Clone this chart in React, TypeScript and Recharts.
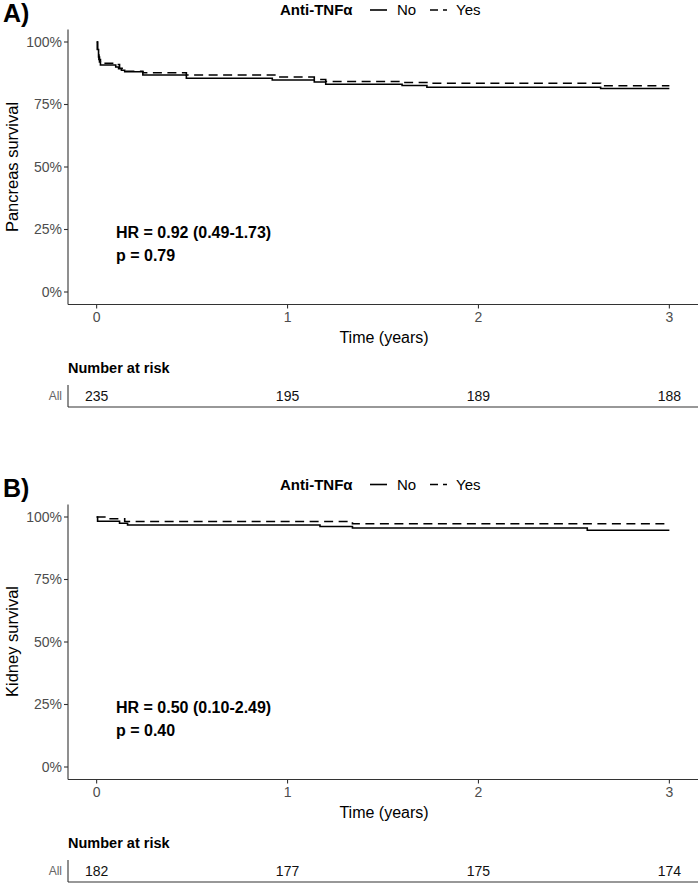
import React from 'react';
import { LineChart, Line, XAxis, YAxis, LabelList } from 'recharts';

// ---- Data ----
const xTicks = [0, 1, 2, 3];
const yTicks = [0, 0.25, 0.5, 0.75, 1];

// Panel A – Pancreas survival
const pancNoT = [0, 0.004, 0.01, 0.015, 0.02, 0.1, 0.115, 0.13, 0.147, 0.242, 0.47, 0.92, 1.14, 1.2, 1.6, 1.73, 2.64, 3];
const pancNoS = [1, 0.97, 0.94, 0.92, 0.908, 0.9, 0.893, 0.887, 0.881, 0.868, 0.855, 0.848, 0.84, 0.831, 0.826, 0.819, 0.814, 0.814];
const pancYesT = [0, 0.005, 0.012, 0.02, 0.1, 0.12, 0.147, 0.242, 0.47, 0.96, 1.14, 1.2, 1.6, 1.73, 2.64, 3];
const pancYesS = [1, 0.96, 0.93, 0.915, 0.91, 0.895, 0.883, 0.877, 0.868, 0.86, 0.85, 0.842, 0.838, 0.835, 0.825, 0.825];

// Panel B – Kidney survival
const kidNoT = [0, 0.005, 0.12, 0.162, 1.17, 1.34, 2.57, 3];
const kidNoS = [1, 0.983, 0.975, 0.968, 0.962, 0.956, 0.947, 0.947];
const kidYesT = [0, 0.05, 0.147, 1.34, 3];
const kidYesS = [1, 0.993, 0.982, 0.973, 0.973];

// Number at risk
const riskTimes = [0, 1, 2, 3];
const riskA = [235, 195, 189, 188];
const riskB = [182, 177, 175, 174];

const FONT = '"Liberation Sans", Arial, Helvetica, sans-serif';

const toSeries = (t: number[], s: number[]) => t.map((v, i) => ({ t: v, s: s[i] }));
const toRisk = (t: number[], n: number[]) => t.map((v, i) => ({ t: v, n: n[i], y: 0.5 }));

const axisStroke = { stroke: '#333333', strokeWidth: 1.1 };

function SurvivalChart({ top, noData, yesData }: { top: number; noData: any[]; yesData: any[] }) {
  return (
    <div style={{ position: 'absolute', left: 0, top }}>
      <LineChart width={700} height={345} margin={{ top: 29.5, right: 2, bottom: 0.5, left: 8 }}>
        <XAxis
          dataKey="t"
          type="number"
          domain={[-0.15, 3.15]}
          ticks={xTicks}
          allowDataOverflow
          height={40}
          tickSize={4}
          tickMargin={4}
          axisLine={axisStroke}
          tickLine={axisStroke}
          tick={{ fill: '#4d4d4d', fontSize: 14, fontFamily: FONT }}
        />
        <YAxis
          type="number"
          domain={[-0.05, 1.05]}
          ticks={yTicks}
          allowDataOverflow
          width={60}
          tickSize={4}
          tickMargin={2}
          tickFormatter={(v: number) => `${Math.round(v * 100)}%`}
          axisLine={axisStroke}
          tickLine={axisStroke}
          tick={{ fill: '#4d4d4d', fontSize: 14, fontFamily: FONT }}
        />
        <Line
          data={noData}
          dataKey="s"
          type="stepAfter"
          stroke="#000000"
          strokeWidth={1.6}
          dot={false}
          activeDot={false}
          isAnimationActive={false}
        />
        <Line
          data={yesData}
          dataKey="s"
          type="stepAfter"
          stroke="#000000"
          strokeWidth={1.6}
          strokeDasharray="9 5.5"
          dot={false}
          activeDot={false}
          isAnimationActive={false}
        />
      </LineChart>
    </div>
  );
}

function RiskTable({ top, data }: { top: number; data: any[] }) {
  return (
    <div style={{ position: 'absolute', left: 0, top }}>
      <LineChart width={700} height={28} margin={{ top: 5, right: 2, bottom: 0, left: 8 }}>
        <XAxis
          dataKey="t"
          type="number"
          domain={[-0.15, 3.15]}
          ticks={xTicks}
          allowDataOverflow
          height={1}
          tick={false}
          tickLine={false}
          axisLine={axisStroke}
        />
        <YAxis
          type="number"
          domain={[0, 1]}
          ticks={[0.5]}
          width={60}
          tickSize={0}
          tickMargin={6}
          tickLine={false}
          tickFormatter={() => 'All'}
          axisLine={axisStroke}
          tick={{ fill: '#666666', fontSize: 12, fontFamily: FONT }}
        />
        <Line
          data={data}
          dataKey="y"
          stroke="none"
          dot={false}
          activeDot={false}
          isAnimationActive={false}
        >
          <LabelList
            dataKey="n"
            content={(p: any) => (
              <text
                x={p.x}
                y={p.y}
                dy="0.35em"
                textAnchor="middle"
                fontSize={14}
                fontFamily={FONT}
                fill="#111111"
              >
                {p.value}
              </text>
            )}
          />
        </Line>
      </LineChart>
    </div>
  );
}

function Overlay({ o, tag, yTitle, hr, p }: { o: number; tag: string; yTitle: string; hr: string; p: string }) {
  return (
    <g fontFamily={FONT}>
      <text x={3} y={o + 22} fontSize={25} fontWeight="bold" fill="#000">{tag}</text>
      {/* legend */}
      <text x={280} y={o + 15} fontSize={15} fontWeight="bold" fill="#000">Anti-TNFα</text>
      <line x1={370} x2={387} y1={o + 10} y2={o + 10} stroke="#000" strokeWidth={1.6} />
      <text x={397} y={o + 15} fontSize={15} fill="#000">No</text>
      <line x1={430} x2={447} y1={o + 10} y2={o + 10} stroke="#000" strokeWidth={1.6} strokeDasharray="8 5" />
      <text x={456} y={o + 15} fontSize={15} fill="#000">Yes</text>
      {/* y title */}
      <text
        x={0}
        y={0}
        transform={`translate(18, ${o + 167}) rotate(-90)`}
        textAnchor="middle"
        fontSize={16.5}
        fill="#000"
      >
        {yTitle}
      </text>
      {/* x title */}
      <text x={384} y={o + 343} textAnchor="middle" fontSize={16} fill="#000">Time (years)</text>
      {/* HR annotation */}
      <text x={116} y={o + 238} fontSize={16} fontWeight="bold" fill="#000">{hr}</text>
      <text x={116} y={o + 261} fontSize={16} fontWeight="bold" fill="#000">{p}</text>
      {/* risk table title */}
      <text x={68} y={o + 373} fontSize={14.5} fontWeight="bold" fill="#000">Number at risk</text>
    </g>
  );
}

export default function App() {
  const oB = 474.5;
  return (
    <div style={{ position: 'absolute', left: 0, top: 0, width: 700, height: 884, background: '#fff', overflow: 'hidden' }}>
      <SurvivalChart top={0} noData={toSeries(pancNoT, pancNoS)} yesData={toSeries(pancYesT, pancYesS)} />
      <RiskTable top={380} data={toRisk(riskTimes, riskA)} />
      <SurvivalChart top={oB} noData={toSeries(kidNoT, kidNoS)} yesData={toSeries(kidYesT, kidYesS)} />
      <RiskTable top={380 + oB} data={toRisk(riskTimes, riskB)} />
      <svg width={700} height={884} style={{ position: 'absolute', left: 0, top: 0, pointerEvents: 'none' }}>
        <Overlay o={0} tag="A)" yTitle="Pancreas survival" hr="HR = 0.92 (0.49-1.73)" p="p = 0.79" />
        <Overlay o={oB} tag="B)" yTitle="Kidney survival" hr="HR = 0.50 (0.10-2.49)" p="p = 0.40" />
      </svg>
    </div>
  );
}
